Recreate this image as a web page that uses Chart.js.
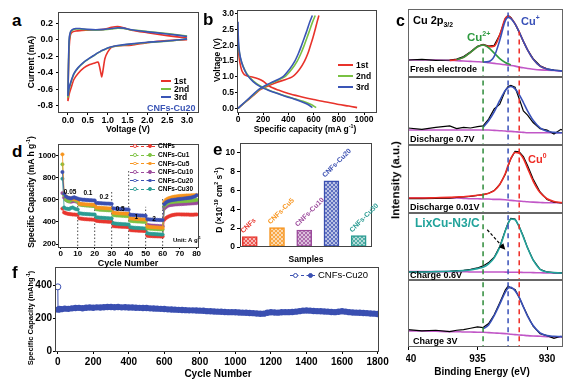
<!DOCTYPE html>
<html><head><meta charset="utf-8">
<script src="https://cdn.jsdelivr.net/npm/chart.js@4.4.1/dist/chart.umd.min.js"></script>
<style>
html,body{margin:0;padding:0;background:#fff;}
#fig{position:relative;width:576px;height:384px;overflow:hidden;background:#fff;font-family:"Liberation Sans",Arial,sans-serif;}
canvas{position:absolute;}
.t{position:absolute;white-space:nowrap;font-weight:bold;line-height:1;}
.t sup,.t sub{font-size:62%;line-height:0;}
</style></head><body><div id="fig"></div>
<script>
// ================= DATA =================
// Panel a : cyclic voltammetry (V, mA)
const aTicksX = [0, 0.5, 1.0, 1.5, 2.0, 2.5, 3.0];
const aTicksY = [-0.8, -0.6, -0.4, -0.2, 0.0, 0.2];
const aDownV = [3.0, 2.5, 2.0, 1.6, 1.25, 1.1, 1.0, 0.93, 0.88, 0.85, 0.82, 0.76, 0.65, 0.55, 0.4, 0.25, 0.15, 0.08, 0.03, 0.0];
const aDown1 = [0.0, -0.01, -0.035, -0.065, -0.075, -0.09, -0.15, -0.23, -0.38, -0.45, -0.38, -0.27, -0.285, -0.30, -0.34, -0.41, -0.48, -0.58, -0.66, -0.74];
const aDown2 = [0.01, -0.018, -0.033, -0.053, -0.073, -0.088, -0.103, -0.118, -0.128, -0.133, -0.143, -0.158, -0.193, -0.223, -0.275, -0.345, -0.415, -0.51, -0.60, -0.70];
const aDown3 = [0.01, -0.015, -0.03, -0.05, -0.07, -0.085, -0.10, -0.115, -0.125, -0.13, -0.14, -0.155, -0.19, -0.22, -0.27, -0.34, -0.41, -0.50, -0.58, -0.68];
const aUpV = [0.0, 0.01, 0.03, 0.06, 0.1, 0.2, 0.3, 0.5, 0.7, 0.9, 1.1, 1.25, 1.4, 1.6, 2.0, 2.5, 3.0];
const aUp1 = [-0.74, -0.45, -0.10, 0.05, 0.09, 0.105, 0.11, 0.115, 0.12, 0.125, 0.15, 0.16, 0.145, 0.115, 0.085, 0.05, 0.02];
const aUp2 = [-0.70, -0.42, -0.02, 0.08, 0.11, 0.13, 0.13, 0.12, 0.115, 0.12, 0.13, 0.14, 0.135, 0.12, 0.10, 0.075, 0.045];
const aUp3 = [-0.68, -0.40, 0.0, 0.09, 0.12, 0.135, 0.135, 0.125, 0.12, 0.125, 0.135, 0.145, 0.14, 0.12, 0.095, 0.07, 0.04];
const aLegend = ['1st', '2nd', '3rd'];

// Panel b : charge/discharge profiles
const bTicksX = [0, 200, 400, 600, 800, 1000];
const bTicksY = [0.0, 0.5, 1.0, 1.5, 2.0, 2.5, 3.0];
const bDis1Cap = [0, 5, 15, 30, 50, 80, 120, 160, 200, 250, 320, 400, 500, 600, 700, 800, 880, 945];
const bDis1V   = [2.05, 1.75, 1.45, 1.2, 1.07, 1.02, 0.99, 0.94, 0.86, 0.70, 0.58, 0.47, 0.37, 0.28, 0.20, 0.12, 0.07, 0.02];
const bDis2Cap = [0, 8, 20, 40, 70, 120, 180, 250, 320, 385, 450, 517, 580, 620];
const bDis2V   = [2.2, 1.85, 1.58, 1.34, 1.1, 0.87, 0.70, 0.57, 0.47, 0.38, 0.30, 0.22, 0.12, 0.02];
const bDis3Cap = [0, 2, 8, 20, 40, 70, 120, 180, 250, 320, 385, 450, 510, 555, 590];
const bDis3V   = [2.75, 2.3, 1.9, 1.6, 1.33, 1.08, 0.85, 0.68, 0.56, 0.46, 0.37, 0.29, 0.20, 0.12, 0.02];
const bChgV    = [0, 0.2, 0.4, 0.6, 0.8, 1.0, 1.25, 1.5, 1.75, 2.0, 2.25, 2.5, 2.75, 2.95];
const bChg1Cap = [0, 60, 120, 180, 290, 430, 490, 528, 555, 575, 595, 612, 628, 642];
const bChg2Cap = [0, 58, 115, 172, 265, 370, 428, 470, 500, 525, 548, 570, 592, 613];
const bChg3Cap = [0, 55, 110, 165, 255, 355, 410, 451, 480, 504, 527, 549, 570, 590];

// Panel c : XPS Cu 2p3/2 (binding energy grid, normalised intensities per sub-panel)
const cTicksX = [940, 935, 930];
const cBE = [940, 939, 938, 937, 936.5, 936, 935.5, 935, 934.6, 934.2, 933.8, 933.4, 933.0, 932.8, 932.6, 932.3, 932.0, 931.7, 931.4, 931.0, 930.5, 930.0, 929.5, 929.0, 928.8];
const cDashX = [934.6, 932.8, 932.0];
const c1Base = [0.25, 0.25, 0.25, 0.245, 0.24, 0.235, 0.23, 0.225, 0.22, 0.21, 0.20, 0.19, 0.18, 0.175, 0.17, 0.16, 0.145, 0.135, 0.125, 0.115, 0.105, 0.10, 0.095, 0.09, 0.09];
const c1Cu2  = [null, null, null, null, 0.255, 0.289, 0.363, 0.445, 0.47, 0.43, 0.352, 0.271, 0.214, 0.195, 0.181, null, null, null, null, null, null, null, null, null, null];
const c1Cu1  = [null, null, null, null, null, null, null, null, 0.221, 0.226, 0.302, 0.54, 0.828, 0.875, 0.857, 0.781, 0.66, 0.526, 0.398, 0.263, 0.16, 0.116, 0.099, 0.09, 0.09];
const c1Env  = [null, null, null, 0.245, 0.255, 0.289, 0.363, 0.445, 0.471, 0.446, 0.454, 0.621, 0.862, 0.895, 0.868, 0.784, 0.661, 0.526, 0.398, 0.263, 0.16, 0.116, null, null, null];
const c1Data = [0.25, 0.26, 0.245, 0.25, 0.262, 0.30, 0.37, 0.45, 0.48, 0.455, 0.465, 0.62, 0.86, 0.905, 0.875, 0.78, 0.66, 0.52, 0.40, 0.27, 0.165, 0.12, 0.10, 0.095, 0.09];
const c1DashTop = [0.45, 1.05, 0.67];
const c2Base = [0.22, 0.22, 0.22, 0.22, 0.22, 0.22, 0.22, 0.22, 0.22, 0.22, 0.215, 0.21, 0.205, 0.20, 0.20, 0.195, 0.19, 0.185, 0.18, 0.18, 0.18, 0.18, 0.18, 0.18, 0.18];
const c2Fit  = [null, null, null, null, null, null, null, null, 0.26, 0.356, 0.486, 0.655, 0.803, 0.844, 0.86, 0.826, 0.741, 0.625, 0.501, 0.363, 0.253, 0.202, 0.185, 0.18, 0.18];
const c2Data = [0.25, 0.23, 0.26, 0.28, 0.24, 0.26, 0.25, 0.27, 0.28, 0.38, 0.53, 0.60, 0.80, 0.86, 0.875, 0.85, 0.68, 0.50, 0.44, 0.33, 0.24, 0.22, 0.16, 0.23, 0.21];
const c3Base = [0.22, 0.22, 0.22, 0.22, 0.22, 0.215, 0.21, 0.21, 0.205, 0.205, 0.20, 0.20, 0.195, 0.19, 0.185, 0.18, 0.175, 0.17, 0.165, 0.16, 0.155, 0.15, 0.15, 0.15, 0.15];
const c3Fit  = [0.22, 0.22, 0.225, 0.23, 0.235, 0.24, 0.25, 0.26, 0.27, 0.29, 0.33, 0.42, 0.58, 0.70, 0.80, 0.89, 0.88, 0.80, 0.66, 0.47, 0.30, 0.21, 0.17, 0.155, 0.15];
const c3Data = [0.21, 0.21, 0.215, 0.22, 0.23, 0.235, 0.245, 0.26, 0.27, 0.29, 0.33, 0.42, 0.57, 0.69, 0.80, 0.905, 0.90, 0.83, 0.70, 0.50, 0.31, 0.20, 0.16, 0.15, 0.15];
const c4Base = [0.125, 0.125, 0.125, 0.125, 0.125, 0.125, 0.12, 0.12, 0.12, 0.12, 0.12, 0.12, 0.118, 0.117, 0.116, 0.115, 0.115, 0.113, 0.112, 0.11, 0.108, 0.105, 0.103, 0.10, 0.10];
const c4Fit  = [0.12, 0.12, 0.125, 0.13, 0.135, 0.14, 0.15, 0.17, 0.19, 0.24, 0.33, 0.49, 0.73, 0.84, 0.91, 0.90, 0.79, 0.64, 0.48, 0.30, 0.16, 0.12, 0.11, 0.105, 0.105];
const c4Data = [0.12, 0.12, 0.125, 0.13, 0.14, 0.145, 0.16, 0.18, 0.21, 0.26, 0.34, 0.50, 0.74, 0.85, 0.92, 0.91, 0.80, 0.65, 0.48, 0.30, 0.16, 0.12, 0.11, 0.105, 0.105];
const c4Arrow = [934.3, 0.75, 933.0, 0.45];
const c5Base = [0.24, 0.24, 0.235, 0.23, 0.23, 0.225, 0.225, 0.22, 0.22, 0.215, 0.21, 0.205, 0.20, 0.195, 0.19, 0.185, 0.18, 0.175, 0.17, 0.165, 0.16, 0.155, 0.15, 0.15, 0.15];
const c5Fit  = [null, null, null, null, null, null, null, null, 0.27, 0.33, 0.47, 0.64, 0.82, 0.88, 0.89, 0.84, 0.74, 0.60, 0.46, 0.32, 0.21, 0.17, 0.16, 0.155, 0.155];
const c5Data = [0.26, 0.24, 0.25, 0.23, 0.25, 0.26, 0.28, 0.30, 0.29, 0.35, 0.48, 0.66, 0.85, 0.91, 0.88, 0.86, 0.74, 0.60, 0.47, 0.31, 0.20, 0.17, 0.13, 0.16, 0.14];

// Panel d : rate performance
const dTicksX = [0, 10, 20, 30, 40, 50, 60, 70, 80];
const dTicksY = [200, 400, 600, 800, 1000];
const dCycles = [1,2,3,4,5,6,7,8,9,10,11,12,13,14,15,16,17,18,19,20,21,22,23,24,25,26,27,28,29,30,31,32,33,34,35,36,37,38,39,40,41,42,43,44,45,46,47,48,49,50,51,52,53,54,55,56,57,58,59,60,61,62,63,64,65,66,67,68,69,70,71,72,73,74,75,76,77,78,79,80];
const dNames = ['CNFs', 'CNFs-Cu1', 'CNFs-Cu5', 'CNFs-Cu10', 'CNFs-Cu20', 'CNFs-Cu30'];
const dRed = [520,485,478,474,471,469,467,466,465,464, 432,429,427,425,424,423,422,421,420,419, 410,408,406,405,404,403,402,401,400,400, 362,360,359,358,357,356,355,355,354,354, 326,324,323,322,321,320,320,319,318,318, 275,273,272,271,270,270,269,269,268,268, 420,435,445,452,458,462,465,467,468,468, 467,467,466,466,466,465,465,465,466,467];
const dGreen = [920,640,600,590,585,595,605,600,590,585, 558,555,552,550,548,547,546,545,544,543, 515,512,510,509,508,507,506,505,504,503, 462,460,458,457,456,455,454,453,452,451, 410,408,406,405,404,403,402,401,400,400, 342,340,338,337,336,335,334,333,332,332, 545,560,570,575,578,580,582,583,584,585, 586,587,588,589,590,591,592,594,596,600];
const dOrange = [1010,660,630,620,615,610,608,605,603,600, 565,562,560,559,558,557,556,555,554,553, 530,528,527,526,525,524,523,522,521,520, 482,480,479,478,477,476,475,475,474,473, 432,430,428,427,426,425,424,423,422,421, 358,355,353,352,351,350,349,348,347,346, 580,600,610,615,620,625,628,630,632,634, 635,636,637,638,638,639,640,640,641,642];
const dPurple = [660,620,600,590,585,582,585,588,584,580, 560,557,555,553,552,551,550,549,548,547, 520,518,516,515,514,513,512,511,510,509, 476,474,472,471,470,469,468,467,466,465, 422,420,418,417,416,415,414,413,412,411, 372,369,367,366,365,364,363,362,361,360, 520,535,545,550,553,555,557,558,559,560, 561,562,563,564,565,566,567,568,569,570];
const dBlue = [850,655,630,620,615,612,618,622,615,610, 605,603,600,600,598,597,596,595,594,593, 572,570,569,568,567,566,565,565,564,563, 522,520,518,517,516,515,514,513,512,511, 465,463,462,461,460,459,458,457,456,455, 425,422,421,420,419,418,418,417,416,416, 560,575,585,590,595,598,600,602,605,606, 608,610,612,614,616,618,620,625,630,640];
const dTeal = [790,530,520,518,516,525,530,522,515,512, 478,475,473,472,471,470,469,468,467,466, 442,440,438,437,436,435,434,433,432,431, 388,385,383,382,381,380,379,378,377,376, 352,349,347,346,345,344,343,342,341,340, 298,294,292,291,290,289,288,287,286,285, 530,550,560,565,568,570,572,574,575,576, 577,578,579,580,581,582,583,585,588,592];
const dLineX = [10, 20, 30, 40, 50, 60];
const dLineTop = [615, 580, 686, 865, 536, 625];
const dRates = ['0.05', '0.1', '0.2', '0.5', '1', '2'];
const dRateX = [5.5, 16, 25.5, 35, 44.5, 55];
const dRateY = [670, 659, 626, 515, 443, 425];

// Panel e : diffusion coefficients
const eNames = ['CNFs', 'CNFs-Cu5', 'CNFs-Cu10', 'CNFs-Cu20', 'CNFs-Cu30'];
const ePos = [1, 2, 3, 4, 5];
const eVals = [1.1, 2.05, 1.8, 7.0, 1.2];
const eTicksY = [0, 2, 4, 6, 8, 10];

// Panel f : long cycling
const fTicksX = [0, 200, 400, 600, 800, 1000, 1200, 1400, 1600, 1800];
const fTicksY = [0, 200, 400];
const fFirstX = [1, 2];
const fFirstY = [390, 252];
const fX = [2,10,20,40,60,80,100,120,140,160,180,200,220,240,260,280,300,320,340,360,380,400,420,440,460,480,500,520,540,560,580,600,620,640,660,680,700,720,740,760,780,800,820,840,860,880,900,920,940,960,980,1000,1020,1040,1060,1080,1100,1120,1140,1160,1180,1200,1220,1240,1260,1280,1300,1320,1340,1360,1380,1400,1420,1440,1460,1480,1500,1520,1540,1560,1580,1600,1620,1640,1660,1680,1700,1720,1740,1760,1780,1800];
const fY = [252,256, 255,258,257,260,262,263,261,264,265,264, 266,265,267,268,268,267,268,266,267,265, 265,264,263,262,262,260,259,258,257,256, 254,253,252,251,250,249,248,248,247,246, 245,243,242,241,240,239,238,237,237,236, 235,234,233,232,231,229,227,228,233,236, 235,234,236,237,237,238,240,243,246,247, 246,244,243,242,241,240,238,237,239,242, 240,237,235,234,233,232,231,229,228,226];

// ================= RENDER =================
const FF = "'Liberation Sans', Arial, sans-serif";
Chart.defaults.font.family = FF;
Chart.defaults.color = '#000';
const fig = document.getElementById('fig');

const RED = '#e8332b', GREEN = '#79c143', BLUE = '#3a55b6';
const dCol = {red:'#e8372f', green:'#7dc242', orange:'#f7941d', purple:'#9b4a9b', blue:'#3a4fb1', teal:'#2b9c93'};
const C = {red:'#ee2b24', blue:'#3850b8', green:'#2e9a40', teal:'#21a39b', purple:'#c157c7', dgreen:'#2e8b3a'};

Chart.register({
  id: 'frame',
  afterDatasetsDraw(ch, args, o) {
    if (!o || !o.color) return;
    const a = ch.chartArea, g = ch.ctx;
    g.save(); g.strokeStyle = o.color; g.lineWidth = 1;
    g.strokeRect(Math.round(a.left) + 0.5, Math.round(a.top) + 0.5, Math.round(a.right - a.left) - 1, Math.round(a.bottom - a.top) - 1);
    g.restore();
  }
});

function zip(xs, ys) { return xs.map((x, i) => ({x: x, y: ys[i]})); }
function line(pts, col, w, extra) {
  return Object.assign({data: pts, showLine: true, borderColor: col, backgroundColor: col, borderWidth: w, pointRadius: 0, tension: 0.3, fill: false}, extra || {});
}
function ax(min, max, ticks, o) {
  o = o || {};
  return {
    type: 'linear', min: min, max: max, reverse: !!o.reverse, display: o.display !== false, offset: false,
    afterBuildTicks: s => { s.ticks = ticks.map(v => ({value: v})); },
    ticks: {autoSkip: false, maxRotation: 0, padding: (o.pad !== undefined ? o.pad : 0), color: '#000',
      font: {size: o.fs || 9, weight: 'bold'}, callback: o.fmt || (v => String(v))},
    grid: {display: true, drawOnChartArea: false, drawTicks: true, tickLength: (o.tl !== undefined ? o.tl : 2), color: '#000', lineWidth: 1, offset: false},
    border: {display: false}
  };
}
function mk(rect, yw, xh, pad, cfg) {
  const c = document.createElement('canvas');
  const left = rect[0] - yw - pad[3], top = rect[1] - pad[0];
  const w = rect[2] - left + pad[1], h = rect[3] + xh + pad[2] - top;
  c.width = w; c.height = h;
  c.style.left = left + 'px'; c.style.top = top + 'px'; c.style.width = w + 'px'; c.style.height = h + 'px';
  fig.appendChild(c);
  const op = cfg.options;
  op.responsive = false; op.animation = false; op.devicePixelRatio = 1; op.events = [];
  op.layout = {padding: {top: pad[0], right: pad[1], bottom: pad[2], left: pad[3]}};
  op.plugins = Object.assign({legend: {display: false}, tooltip: {enabled: false}}, op.plugins || {});
  op.scales.x.afterFit = s => { s.height = xh; s.paddingLeft = 0; s.paddingRight = 0; s.paddingTop = 0; s.paddingBottom = 0; };
  op.scales.y.afterFit = s => { s.width = yw; s.paddingLeft = 0; s.paddingRight = 0; s.paddingTop = 0; s.paddingBottom = 0; };
  return new Chart(c, cfg);
}
function txt(html, x, y, size, o) {
  o = o || {};
  const d = document.createElement('div');
  d.className = 't'; d.innerHTML = html;
  d.style.fontSize = size + 'px'; d.style.color = o.color || '#000';
  if (o.weight) d.style.fontWeight = o.weight;
  d.style.left = x + 'px'; d.style.top = y + 'px';
  if (o.rot) d.style.transform = 'translate(-50%,-50%) rotate(' + o.rot + 'deg)';
  else d.style.transform = 'translate(' + (o.center ? '-50%' : '0') + ',-50%)';
  fig.appendChild(d);
}
function seg(x1, x2, y, col, w, dash) {
  const d = document.createElement('div');
  d.style.cssText = 'position:absolute;left:' + x1 + 'px;top:' + (y - w / 2) + 'px;width:' + (x2 - x1) + 'px;height:0;border-top:' + w + 'px ' + (dash ? 'dashed' : 'solid') + ' ' + col + ';';
  fig.appendChild(d);
}
function dot(x, y, r, col, fill) {
  const d = document.createElement('div');
  d.style.cssText = 'position:absolute;box-sizing:border-box;left:' + (x - r) + 'px;top:' + (y - r) + 'px;width:' + (2 * r) + 'px;height:' + (2 * r) + 'px;border-radius:50%;border:1px solid ' + col + ';background:' + (fill ? col : '#fff') + ';';
  fig.appendChild(d);
}

// ---------- a ----------
mk([58, 12, 199, 113], 26, 16, [6, 8, 2, 2], {
  type: 'scatter',
  data: {datasets: [
    line(zip(aDownV.concat(aUpV), aDown3.concat(aUp3)), BLUE, 1.6, {tension: 0.2}),
    line(zip(aDownV.concat(aUpV), aDown2.concat(aUp2)), GREEN, 1.6, {tension: 0.2}),
    line(zip(aDownV.concat(aUpV), aDown1.concat(aUp1)), RED, 1.6, {tension: 0.2})
  ]},
  options: {scales: {
    x: ax(-0.25, 3.3, aTicksX, {fs: 9, fmt: v => v.toFixed(1)}),
    y: ax(-0.885, 0.335, aTicksY, {fs: 9, pad: 3, fmt: v => v.toFixed(1)})
  }, plugins: {frame: {color: '#444'}}}
});

// ---------- b ----------
mk([237, 10, 377, 113], 20, 16, [6, 10, 2, 2], {
  type: 'scatter',
  data: {datasets: [
    line(zip(bDis3Cap, bDis3V), BLUE, 1.6), line(zip(bChg3Cap, bChgV), BLUE, 1.6),
    line(zip(bDis2Cap, bDis2V), GREEN, 1.6), line(zip(bChg2Cap, bChgV), GREEN, 1.6),
    line(zip(bDis1Cap, bDis1V), RED, 1.6), line(zip(bChg1Cap, bChgV), RED, 1.6)
  ]},
  options: {scales: {
    x: ax(-8, 1103, bTicksX, {fs: 8.5}),
    y: ax(-0.15, 3.127, bTicksY, {fs: 8.5, pad: 1, fmt: v => v.toFixed(1)})
  }, plugins: {frame: {color: '#444'}}}
});

// ---------- c ----------
const cRows = [9, 77, 145, 213, 280, 347];
const cPanels = [
  {data: c1Data, fits: [[c1Cu1, C.blue], [c1Cu2, C.green], [c1Env, C.red]], base: c1Base, top: c1DashTop},
  {data: c2Data, fits: [[c2Fit, C.blue]], base: c2Base, top: [1.05, 1.05, 1.05]},
  {data: c3Data, fits: [[c3Fit, C.red]], base: c3Base, top: [1.05, 1.05, 1.05]},
  {data: c4Data, fits: [[c4Fit, C.teal]], base: c4Base, top: [1.05, 1.05, 1.05]},
  {data: c5Data, fits: [[c5Fit, C.blue]], base: c5Base, top: [1.05, 1.05, 1.05]}
];
const dashCols = [C.dgreen, C.blue, C.red];
cPanels.forEach((p, k) => {
  const ds = [];
  cDashX.forEach((x, j) => ds.push(line(zip([x, x], [-0.05, p.top[j]]), dashCols[j], 1.5, {tension: 0, borderDash: [5, 4]})));
  p.fits.forEach(f => ds.push(line(zip(cBE, f[0]), f[1], 1.6, {cubicInterpolationMode: 'monotone'})));
  ds.push(line(zip(cBE, p.data), '#000', 1.2, {tension: 0}));
  ds.push(line(zip(cBE, p.base), C.purple, 1.6, {cubicInterpolationMode: 'monotone'}));
  const last = k === 4;
  const plugins = [];
  if (k === 3) plugins.push({id: 'arrow', afterDatasetsDraw(ch) {
    const X = ch.scales.x, Y = ch.scales.y, g = ch.ctx;
    const x1 = X.getPixelForValue(c4Arrow[0]), y1 = Y.getPixelForValue(c4Arrow[1]);
    const x2 = X.getPixelForValue(c4Arrow[2]), y2 = Y.getPixelForValue(c4Arrow[3]);
    const an = Math.atan2(y2 - y1, x2 - x1);
    g.save(); g.strokeStyle = '#000'; g.fillStyle = '#000'; g.lineWidth = 1.2; g.setLineDash([3, 2]);
    g.beginPath(); g.moveTo(x1, y1); g.lineTo(x2 - 4 * Math.cos(an), y2 - 4 * Math.sin(an)); g.stroke();
    g.setLineDash([]); g.beginPath(); g.moveTo(x2, y2);
    g.lineTo(x2 - 7 * Math.cos(an - 0.45), y2 - 7 * Math.sin(an - 0.45));
    g.lineTo(x2 - 7 * Math.cos(an + 0.45), y2 - 7 * Math.sin(an + 0.45));
    g.closePath(); g.fill(); g.restore();
  }});
  mk([408, cRows[k], 563, cRows[k + 1]], 0, last ? 22 : 0, [2, 10, 2, 2], {
    type: 'scatter', data: {datasets: ds}, plugins: plugins,
    options: {scales: {
      x: ax(928.85, 940, last ? cTicksX : [], {reverse: true, display: last, fs: 10, tl: 3, pad: 3}),
      y: ax(0, 1, [], {display: false})
    }, plugins: {frame: {color: '#666'}}}
  });
});

// ---------- d ----------
const dSeries = [[dBlue, dCol.blue], [dOrange, dCol.orange], [dGreen, dCol.green], [dPurple, dCol.purple], [dTeal, dCol.teal], [dRed, dCol.red]];
const dDs = dSeries.map(s => line(zip(dCycles, s[0]), s[1], 0.8, {tension: 0, pointRadius: 1.7, pointBorderWidth: 0.5, pointBackgroundColor: s[1], pointBorderColor: s[1]}));
dLineX.forEach((x, i) => dDs.push(line(zip([x, x], [150, dLineTop[i]]), '#333', 0.9, {tension: 0, borderDash: [1.5, 2]})));
mk([58, 143, 199, 247], 24, 14, [4, 8, 2, 2], {
  type: 'scatter', data: {datasets: dDs},
  plugins: [{id: 'rates', afterDatasetsDraw(ch) {
    const X = ch.scales.x, Y = ch.scales.y, g = ch.ctx;
    g.save(); g.font = 'bold 6.5px ' + FF; g.fillStyle = '#000'; g.textAlign = 'center'; g.textBaseline = 'middle';
    dRates.forEach((r, i) => g.fillText(r, X.getPixelForValue(dRateX[i]), Y.getPixelForValue(dRateY[i])));
    g.restore();
  }}],
  options: {scales: {
    x: ax(-1.6, 81.4, dTicksX, {fs: 8}),
    y: ax(173, 1108, dTicksY, {fs: 8})
  }, plugins: {frame: {color: '#444'}}}
});

// ---------- e ----------
function hatch(col) {
  const p = document.createElement('canvas'); p.width = 4; p.height = 4;
  const g = p.getContext('2d');
  g.fillStyle = '#fff'; g.fillRect(0, 0, 4, 4);
  g.globalAlpha = 0.35; g.fillStyle = col; g.fillRect(0, 0, 4, 4); g.globalAlpha = 0.9;
  g.strokeStyle = col; g.lineWidth = 0.8; g.beginPath();
  g.moveTo(0, 4); g.lineTo(4, 0); g.moveTo(0, 0); g.lineTo(4, 4); g.stroke();
  return g.createPattern(p, 'repeat');
}
const eCols = [dCol.red, dCol.orange, dCol.purple, dCol.blue, dCol.teal];
mk([240, 143, 372, 247], 18, 6, [4, 26, 2, 2], {
  type: 'bar',
  data: {datasets: [{data: zip(ePos, eVals), backgroundColor: eCols.map(hatch), borderColor: eCols, borderWidth: 1.5, barThickness: 15, borderSkipped: false}]},
  plugins: [{id: 'barlab', afterDatasetsDraw(ch) {
    const m = ch.getDatasetMeta(0), g = ch.ctx;
    g.save(); g.font = 'bold 7px ' + FF;
    m.data.forEach((b, i) => {
      g.save(); g.translate(b.x - b.width / 2 + 1, b.y - 3); g.rotate(-Math.PI / 4);
      g.fillStyle = eCols[i]; g.textBaseline = 'alphabetic'; g.fillText(eNames[i], 0, 0); g.restore();
    });
    g.restore();
  }}],
  options: {scales: {
    x: ax(0.64, 5.49, [], {}),
    y: ax(0, 11, eTicksY, {fs: 8.5, tl: 3, pad: 2})
  }, plugins: {frame: {color: '#444'}}}
});

// ---------- f ----------
mk([55, 266, 379, 352], 26, 18, [4, 12, 2, 2], {
  type: 'scatter',
  data: {datasets: [
    line(zip(fFirstX, fFirstY), dCol.blue, 1, {tension: 0, pointRadius: [3, 0], pointBackgroundColor: '#fff', pointBorderColor: dCol.blue, pointBorderWidth: 1}),
    line(zip(fX, fY), dCol.blue, 4, {tension: 0.2, pointRadius: 3.2, pointBorderWidth: 0, pointBackgroundColor: dCol.blue})
  ]},
  options: {scales: {
    x: ax(-15, 1808, fTicksX, {fs: 10, pad: 2}),
    y: ax(-4, 510, fTicksY, {fs: 10, pad: 1})
  }, plugins: {frame: {color: '#444'}}}
});

// ================= TEXT =================
// panel letters
txt('a', 12, 20, 17); txt('b', 203, 19, 17); txt('c', 396, 21, 16);
txt('d', 12, 151, 17); txt('e', 213, 149, 17); txt('f', 12, 272, 17);
// a
txt('Current (mA)', 31, 62, 8.5, {rot: -90});
txt('Voltage (V)', 128, 129, 8.5, {center: true});
[RED, GREEN, BLUE].forEach((c, i) => { seg(161, 171, 81 + i * 8, c, 2); txt(aLegend[i], 174, 81 + i * 8, 8.5); });
txt('CNFs-Cu20', 147, 108, 9, {color: BLUE});
// b
txt('Voltage (V)', 217, 60, 8.5, {rot: -90});
txt('Specific capacity (mA g<sup>-1</sup>)', 305, 129, 8.5, {center: true});
[RED, GREEN, BLUE].forEach((c, i) => { seg(338, 353, 65 + i * 11, c, 2); txt(aLegend[i], 356, 65 + i * 11, 8.5); });
// c
txt('Cu 2p<sub>3/2</sub>', 413, 20, 11);
txt('Cu<sup>2+</sup>', 467, 38, 11.5, {color: C.green});
txt('Cu<sup>+</sup>', 521, 21, 11, {color: C.blue});
txt('Fresh electrode', 410, 69, 9);
txt('Discharge 0.7V', 410, 139, 9);
txt('Cu<sup>0</sup>', 528, 159, 11, {color: C.red});
txt('Discharge 0.01V', 410, 207, 9);
txt('LixCu-N3/C', 415, 223, 12, {color: C.teal});
txt('Charge 0.6V', 410, 275, 9);
txt('Charge 3V', 413, 341, 9);
txt('Binding Energy (eV)', 482, 372, 10, {center: true});
txt('Intensity (a.u.)', 396, 180, 11.5, {rot: -90});
// d
txt('Specific Capacity (mA h g<sup>-1</sup>)', 31, 192, 8.5, {rot: -90});
txt('Cycle Number', 128, 263, 9, {center: true});
const dLegCols = [dCol.red, dCol.green, dCol.orange, dCol.purple, dCol.blue, dCol.teal];
[146, 155, 163.5, 172, 180.5, 189].forEach((y, i) => {
  seg(130, 155, y, dLegCols[i], 1, true); dot(135, y, 1.8, dLegCols[i], false); dot(150, y, 1.8, dLegCols[i], true);
  txt(dNames[i], 158, y, 6.5);
});
txt('Unit: A g<sup>-1</sup>', 173, 239.5, 6);
// e
txt('D (×10<sup>-19</sup> cm<sup>2</sup> s<sup>-1</sup>)', 219, 200, 8.5, {rot: -90});
txt('Samples', 306, 259, 8.5, {center: true});
// f
txt('Specific Capacity (mAhg<sup>-1</sup>)', 31, 318, 7.5, {rot: -90});
txt('Cycle Number', 218, 374, 10, {center: true});
seg(290, 315, 275, dCol.blue, 1, true); dot(295, 275, 2.5, dCol.blue, false); dot(310, 275, 2.5, dCol.blue, true);
txt('CNFs-Cu20', 318, 275, 9.5, {weight: 'normal'});
</script></body></html>
